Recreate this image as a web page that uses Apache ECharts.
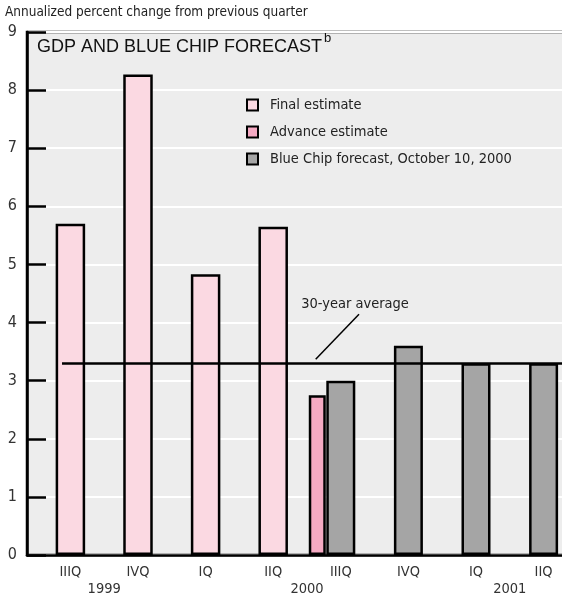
<!DOCTYPE html>
<html>
<head>
<meta charset="utf-8">
<script src="https://cdn.jsdelivr.net/npm/echarts@6/dist/echarts.min.js"></script>
<style>
html,body{margin:0;padding:0;background:#fff;}
#chart{width:562px;height:600px;}
</style>
</head>
<body>
<div id="chart"></div>
<script>
// ---- data ----
var quarterLabels = ['IIIQ', 'IVQ', 'IQ', 'IIQ', 'IIIQ', 'IVQ', 'IQ', 'IIQ'];
var yearLabels = ['1999', '2000', '2001'];
var yearLabelPos = [0.5, 3.5, 6.5];
var finalEstimate = [5.70, 8.27, 4.83, 5.65, null, null, null, null];
var advanceEstimate = [null, null, null, null, 2.75, null, null, null];
var blueChipForecast = [null, null, null, null, 3.0, 3.6, 3.3, 3.3];
var thirtyYearAverage = 3.3;
var yTicks = [0, 1, 2, 3, 4, 5, 6, 7, 8, 9];

var NARROW = "'Liberation Sans Narrow','DejaVu Sans Condensed','Arial Narrow',sans-serif";
var REG = "'Liberation Sans',Arial,sans-serif";

function pairs(arr) {
  var out = [];
  arr.forEach(function (v, i) { if (v !== null) out.push([i, v]); });
  return out;
}

var gridLeft = 27, gridWidth = 545;
var unitPx = 67.6;
var xMin = -0.642, xMax = xMin + gridWidth / unitPx;
var advShift = 0.348;

function hiddenX(min, max) {
  return {
    type: 'value', min: min, max: max, show: false,
    axisLine: { show: false }, axisTick: { show: false },
    axisLabel: { show: false }, splitLine: { show: false }
  };
}

var chart = echarts.init(document.getElementById('chart'), null, { renderer: 'canvas' });

var option = {
  backgroundColor: '#ffffff',
  animation: false,
  title: {
    text: 'Annualized percent change from previous quarter',
    left: 0, top: 0,
    textStyle: { fontFamily: NARROW, fontSize: 13.5, fontWeight: 'normal', color: '#222' }
  },
  grid: {
    left: gridLeft, width: gridWidth, top: 32, bottom: 45,
    show: true, backgroundColor: '#ededed', borderColor: '#000', borderWidth: 2.5,
    containLabel: false, outerBoundsMode: 'none'
  },
  legend: {
    orient: 'vertical', left: 241, top: 92,
    itemWidth: 11, itemHeight: 11, itemGap: 11,
    icon: 'rect',
    textStyle: { fontFamily: NARROW, fontSize: 14.5, color: '#222', lineHeight: 16, padding: [0, 0, 0, 7] },
    data: ['Final estimate', 'Advance estimate', 'Blue Chip forecast, October 10, 2000']
  },
  xAxis: [
    {
      type: 'value', min: xMin, max: xMax, position: 'bottom',
      axisLine: { show: true, onZero: false, lineStyle: { color: '#000', width: 2.5 } },
      axisTick: { show: false },
      splitLine: { show: false },
      axisLabel: {
        show: true, margin: 10,
        customValues: quarterLabels.map(function (q, i) { return i; }),
        formatter: function (v) { return quarterLabels[Math.round(v)]; },
        fontFamily: NARROW, fontSize: 14.5, color: '#333'
      }
    },
    {
      type: 'value', min: xMin, max: xMax, position: 'bottom',
      axisLine: { show: false, onZero: false }, axisTick: { show: false }, splitLine: { show: false },
      axisLabel: {
        show: true, margin: 27,
        customValues: yearLabelPos,
        formatter: function (v) { return yearLabels[yearLabelPos.indexOf(v)]; },
        fontFamily: NARROW, fontSize: 14.5, color: '#333'
      }
    },
    hiddenX(xMin + advShift, xMax + advShift),
    hiddenX(xMin, xMax)
  ],
  yAxis: {
    type: 'value', min: 0, max: 9, interval: 1,
    axisLine: { show: true, onZero: false, lineStyle: { color: '#000', width: 2.5 } },
    axisTick: { show: true, inside: true, length: 19, lineStyle: { color: '#000', width: 2.5 } },
    splitLine: { show: true, lineStyle: { color: '#ffffff', width: 2 } },
    axisLabel: {
      margin: 10, fontFamily: NARROW, fontSize: 16, color: '#333',
      formatter: function (v) { return yTicks.indexOf(v) >= 0 ? String(v) : ''; }
    }
  },
  series: [
    {
      name: 'Final estimate', type: 'bar', xAxisIndex: 0,
      barWidth: 29.5,
      itemStyle: { color: '#fbd9e2', borderColor: '#000', borderWidth: 2.5 },
      data: pairs(finalEstimate)
    },
    {
      name: 'Advance estimate', type: 'bar', xAxisIndex: 2,
      barWidth: 17,
      itemStyle: { color: '#f5aac3', borderColor: '#000', borderWidth: 2.5 },
      data: pairs(advanceEstimate)
    },
    {
      name: 'Blue Chip forecast, October 10, 2000', type: 'bar', xAxisIndex: 3,
      barWidth: 29,
      itemStyle: { color: '#a5a5a5', borderColor: '#000', borderWidth: 2.5 },
      data: pairs(blueChipForecast),
      markLine: {
        silent: true, symbol: 'none', z: 10,
        label: { show: false },
        lineStyle: { color: '#000', width: 2.5, type: 'solid' },
        data: [[{ coord: [-0.124, thirtyYearAverage] }, { coord: [xMax, thirtyYearAverage] }]]
      }
    }
  ],
  graphic: [
    {
      type: 'text', left: 37, top: 38,
      style: { text: 'GDP AND BLUE CHIP FORECAST', font: '18px ' + REG, fill: '#111' }
    },
    {
      type: 'text', left: 324, top: 32,
      style: { text: 'b', font: '13px ' + REG, fill: '#111' }
    },
    {
      type: 'text', x: 355, y: 304,
      style: { text: '30-year average', font: '14.5px ' + NARROW, fill: '#222', align: 'center', verticalAlign: 'middle' }
    },
    {
      type: 'line', z: 20,
      shape: { x1: 315.7, y1: 359.3, x2: 359, y2: 314.3 },
      style: { stroke: '#000', lineWidth: 1.5 }
    }
  ]
};

chart.setOption(option);
</script>
</body>
</html>
